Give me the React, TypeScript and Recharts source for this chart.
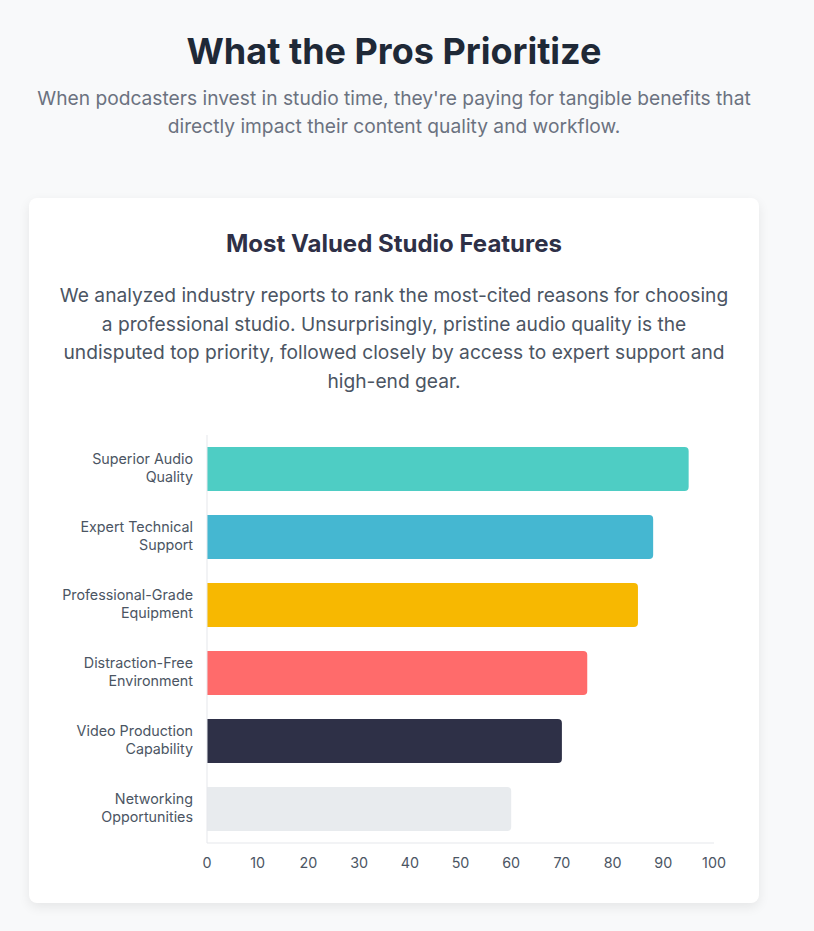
import React from "react";
import { BarChart, Bar, XAxis, YAxis, Cell } from "recharts";

const features = [
  "Superior Audio Quality",
  "Expert Technical Support",
  "Professional-Grade Equipment",
  "Distraction-Free Environment",
  "Video Production Capability",
  "Networking Opportunities",
];
const scores = [95, 88, 85, 75, 70, 60];
const barColors = ["#4ECDC4", "#45B7D1", "#F7B801", "#FF6B6B", "#2E3047", "#E8EBEE"];
const xTicks = [0, 10, 20, 30, 40, 50, 60, 70, 80, 90, 100];

const chartData = features.map((name, i) => ({ name, score: scores[i] }));

const font = "Inter, 'Noto Sans', sans-serif";

// split long labels into two lines like the original canvas chart
function wrapLabel(label: string): string[] {
  if (label.includes("-") && label.split(" ").length === 2) {
    return label.split(" ");
  }
  const words = label.split(" ");
  if (words.length <= 1) return [label];
  const last = words.pop() as string;
  return [words.join(" "), last];
}

function CategoryTick(props: any) {
  const { x, y, payload } = props;
  const lines = wrapLabel(String(payload.value));
  const lh = 18;
  const start = y - ((lines.length - 1) * lh) / 2;
  return (
    <text x={x} y={start} textAnchor="end" fill="#4B5563" fontSize={14.3} fontFamily={font}>
      {lines.map((l, i) => (
        <tspan key={i} x={x} y={start + i * lh} dy="0.3em">
          {l}
        </tspan>
      ))}
    </text>
  );
}

export default function App() {
  return (
    <div
      style={{
        position: "absolute",
        left: 0,
        top: 0,
        width: 814,
        height: 931,
        background: "#F8F9FA",
        fontFamily: font,
        overflow: "hidden",
      }}
    >
      <div
        style={{
          position: "absolute",
          left: 29,
          top: 29,
          width: 730,
          textAlign: "center",
          fontSize: 36,
          fontWeight: 700,
          lineHeight: "44px",
          color: "#1F2937",
        }}
      >
        What the Pros Prioritize
      </div>
      <div
        style={{
          position: "absolute",
          left: 29,
          top: 84,
          width: 730,
          textAlign: "center",
          fontSize: 19.2,
          lineHeight: "28px",
          color: "#6B7280",
        }}
      >
        When podcasters invest in studio time, they're paying for tangible benefits that directly impact their
        content quality and workflow.
      </div>

      <div
        style={{
          position: "absolute",
          left: 29,
          top: 198,
          width: 730,
          height: 705,
          background: "#FFFFFF",
          borderRadius: 8,
          boxShadow: "0 4px 12px rgba(0,0,0,0.08)",
        }}
      >
        <div
          style={{
            position: "absolute",
            left: 0,
            top: 32,
            width: 730,
            textAlign: "center",
            fontSize: 24,
            fontWeight: 700,
            lineHeight: "28px",
            color: "#2E3047",
          }}
        >
          Most Valued Studio Features
        </div>
        <div
          style={{
            position: "absolute",
            left: 25,
            top: 83,
            width: 680,
            textAlign: "center",
            fontSize: 19.2,
            lineHeight: "28.7px",
            color: "#4B5563",
          }}
        >
          We analyzed industry reports to rank the most-cited reasons for choosing a professional studio.
          Unsurprisingly, pristine audio quality is the undisputed top priority, followed closely by access to
          expert support and high-end gear.
        </div>

        <div style={{ position: "absolute", left: 0, top: 227 }}>
          <BarChart
            width={715}
            height={458}
            data={chartData}
            layout="vertical"
            margin={{ top: 10, right: 30, bottom: 10, left: 18 }}
          >
            <XAxis
              type="number"
              domain={[0, 100]}
              ticks={xTicks}
              interval={0}
              tickLine={false}
              tickMargin={9}
              stroke="#E5E7EB"
              tick={{ fill: "#4B5563", fontSize: 14.3, fontFamily: font }}
              height={30}
            />
            <YAxis
              type="category"
              dataKey="name"
              width={160}
              tickLine={false}
              tickMargin={8}
              stroke="#E5E7EB"
              interval={0}
              tick={<CategoryTick />}
            />
            <Bar dataKey="score" barSize={44} radius={[0, 4, 4, 0]} isAnimationActive={false}>
              {chartData.map((d, i) => (
                <Cell key={d.name} fill={barColors[i]} />
              ))}
            </Bar>
          </BarChart>
        </div>
      </div>
    </div>
  );
}
